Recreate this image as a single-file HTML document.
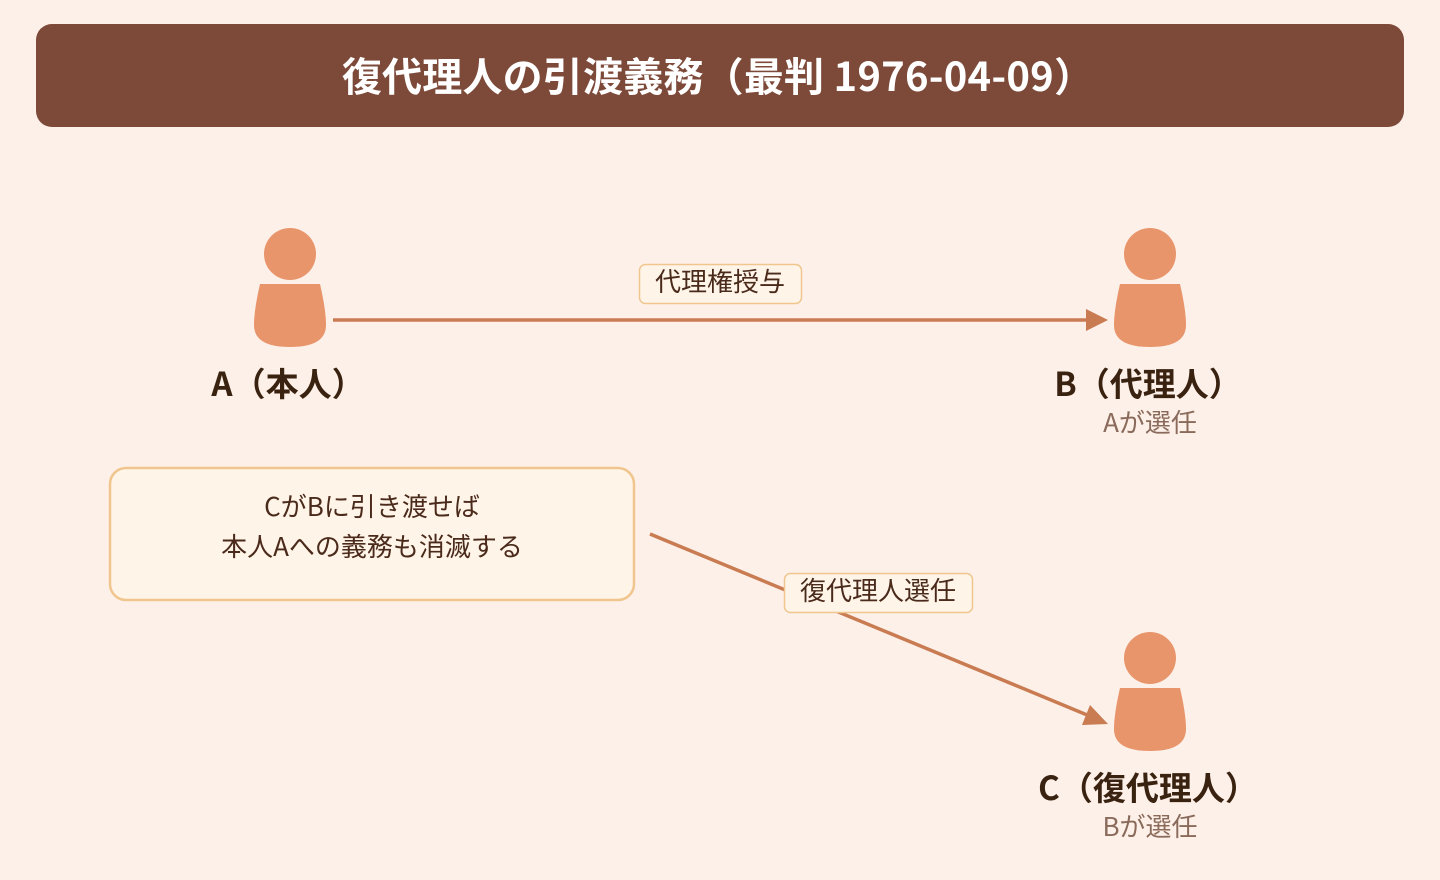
<!DOCTYPE html>
<html><head><meta charset="utf-8"><style>
body{margin:0;width:1440px;height:880px;background:#fdf0e8;font-family:"Noto Sans CJK JP","Liberation Sans",sans-serif;overflow:hidden;position:relative}
.t{position:absolute;white-space:nowrap;transform:translateX(-50%)}
</style></head><body>
<div style="position:absolute;left:36px;top:24px;width:1368px;height:103px;background:#7d4a3a;border-radius:16px"></div>
<div class="t" style="left:718px;top:48px;font-size:40px;font-weight:bold;color:#fff;line-height:52px;letter-spacing:0.2px">復代理人の引渡義務（最判 1976-04-09）</div>
<svg width="1440" height="880" style="position:absolute;left:0;top:0">
<g fill="#e8956b">
<circle cx="290" cy="254" r="26"/><path d="M260,284 L320,284 Q326,310 326,325 Q326,347 290,347 Q254,347 254,325 Q254,310 260,284 Z"/>
<circle cx="1150" cy="254" r="26"/><path d="M1120,284 L1180,284 Q1186,310 1186,325 Q1186,347 1150,347 Q1114,347 1114,325 Q1114,310 1120,284 Z"/>
<circle cx="1150" cy="658" r="26"/><path d="M1120,688 L1180,688 Q1186,714 1186,729 Q1186,751 1150,751 Q1114,751 1114,729 Q1114,714 1120,688 Z"/>
</g>
<g stroke="#c97b52" stroke-width="3.5" fill="#c97b52">
<line x1="333" y1="320" x2="1090" y2="320"/>
<polygon points="1108,320 1086,309 1086,331" stroke="none"/>
<line x1="650" y1="534" x2="1092" y2="717"/>
<polygon points="1108,724 1082,725 1090,705" stroke="none"/>
</g>
<rect x="639.5" y="264.5" width="162" height="39" rx="6" fill="#fff4e8" stroke="#f0c68e" stroke-width="1.5"/>
<rect x="784.5" y="573.5" width="188" height="39" rx="6" fill="#fff4e8" stroke="#f0c68e" stroke-width="1.5"/>
<rect x="110" y="468" width="524" height="132" rx="16" fill="#fff4e8" stroke="#f0c68e" stroke-width="2.5"/>
</svg>
<div class="t" style="left:720px;top:263px;font-size:26px;color:#4a2a1a;line-height:36px">代理権授与</div>
<div class="t" style="left:878px;top:572px;font-size:26px;color:#4a2a1a;line-height:36px">復代理人選任</div>
<div class="t" style="left:372px;top:486px;font-size:26px;color:#4a2a1a;line-height:40px;text-align:center">CがBに引き渡せば<br>本人Aへの義務も消滅する</div>
<div class="t" style="left:288px;top:360px;font-size:33px;font-weight:bold;color:#3a2210;line-height:44px">A（本人）</div>
<div class="t" style="left:1148px;top:360px;font-size:33px;font-weight:bold;color:#3a2210;line-height:44px">B（代理人）</div>
<div class="t" style="left:1150px;top:404px;font-size:26px;color:#8a6a5a;line-height:36px">Aが選任</div>
<div class="t" style="left:1148px;top:764px;font-size:33px;font-weight:bold;color:#3a2210;line-height:44px">C（復代理人）</div>
<div class="t" style="left:1150px;top:808px;font-size:26px;color:#8a6a5a;line-height:36px">Bが選任</div>
</body></html>
